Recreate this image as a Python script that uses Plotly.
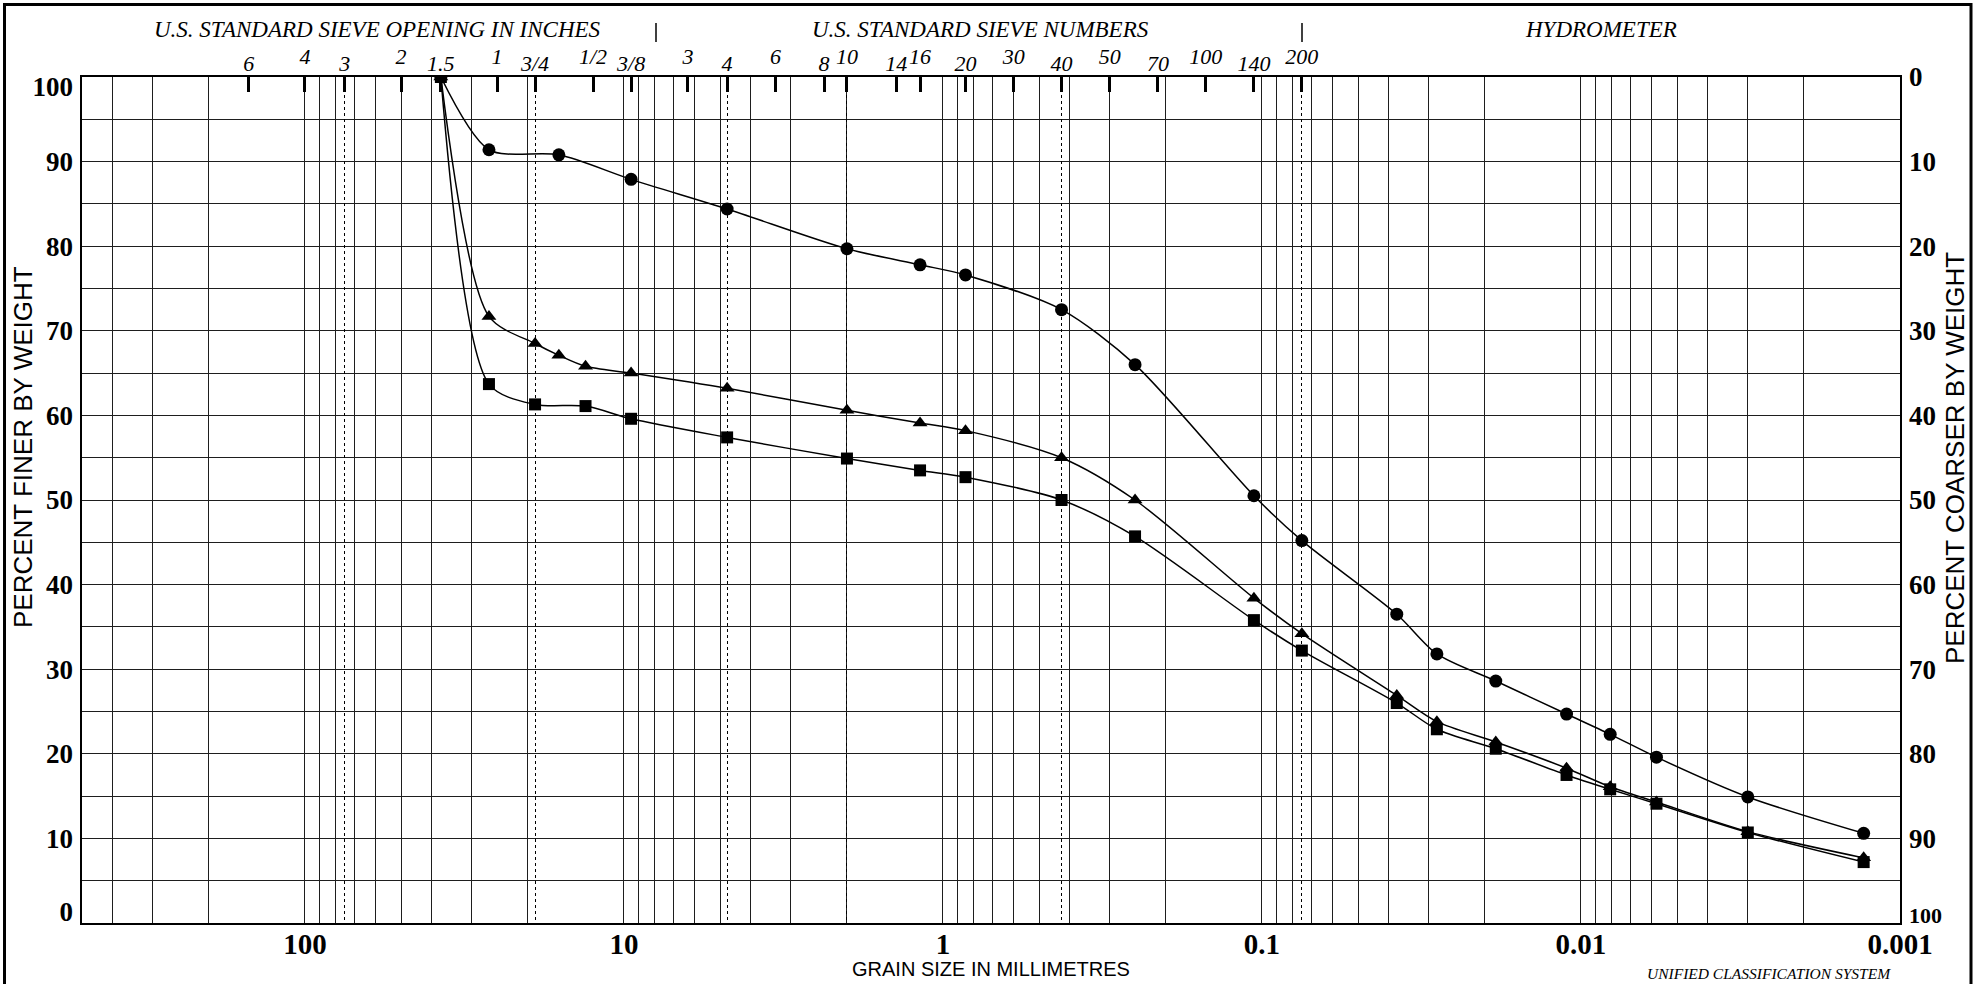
import numpy as np
import plotly.graph_objects as go

# ---------------- data ----------------
size_circle = [37.5, 26.5, 16, 9.5, 4.75, 2.0, 1.18, 0.85, 0.425, 0.25, 0.106, 0.075,
               0.0378, 0.0283, 0.0185, 0.0111, 0.0081, 0.0058, 0.003, 0.0013]
pct_circle = [100, 91.4, 90.8, 87.9, 84.4, 79.7, 77.8, 76.6, 72.5, 66.0, 50.5, 45.2,
              36.5, 31.8, 28.6, 24.7, 22.3, 19.6, 14.9, 10.6]

size_triangle = [37.5, 26.5, 19, 16, 13.2, 9.5, 4.75, 2.0, 1.18, 0.85, 0.425, 0.25, 0.106, 0.075,
                 0.0378, 0.0283, 0.0185, 0.0111, 0.0081, 0.0058, 0.003, 0.0013]
pct_triangle = [100, 71.7, 68.5, 67.1, 65.8, 65.0, 63.2, 60.6, 59.1, 58.2, 55.0, 50.0, 38.4, 34.2,
                26.9, 23.8, 21.4, 18.3, 16.1, 14.3, 10.8, 7.7]

size_square = [37.5, 26.5, 19, 13.2, 9.5, 4.75, 2.0, 1.18, 0.85, 0.425, 0.25, 0.106, 0.075,
               0.0378, 0.0283, 0.0185, 0.0111, 0.0081, 0.0058, 0.003, 0.0013]
pct_square = [100, 63.7, 61.3, 61.1, 59.6, 57.4, 54.9, 53.5, 52.7, 50.0, 45.7, 35.8, 32.2,
              26.0, 22.9, 20.6, 17.5, 15.8, 14.1, 10.7, 7.2]

inch_sizes = [150, 100, 75, 50, 37.5, 25, 19, 12.5, 9.5]
inch_labels = ['6', '4', '3', '2', '1.5', '1', '3/4', '1/2', '3/8']
sieve_sizes = [6.3, 4.75, 3.35, 2.36, 2.0, 1.4, 1.18, 0.85, 0.6, 0.425, 0.3, 0.212, 0.15, 0.106, 0.075]
sieve_labels = ['3', '4', '6', '8', '10', '14', '16', '20', '30', '40', '50', '70', '100', '140', '200']
boundary_sizes = [75, 19, 4.75, 2.0, 0.425, 0.075]

decade_vals = [100, 10, 1, 0.1, 0.01, 0.001]
decade_labels = ['100', '10', '1', '0.1', '0.01', '0.001']
finer_vals = [0, 10, 20, 30, 40, 50, 60, 70, 80, 90, 100]
finer_labels = ['0', '10', '20', '30', '40', '50', '60', '70', '80', '90', '100']
coarser_vals = [0, 10, 20, 30, 40, 50, 60, 70, 80, 90, 100]
coarser_labels = ['0', '10', '20', '30', '40', '50', '60', '70', '80', '90', '100']

X_MAX, X_MIN = 500, 0.001

# ---------------- layout geometry ----------------
W, H = 1982, 984
L, R, T, B = 82, 1900, 77, 923
PPU = (B - T) / 100.0  # pixels per percent


def px2x(px):
    return (px - L) / (R - L)


def py2y(py):
    return (B - py) / (B - T)


SERIF = 'Liberation Serif'
SANS = 'Liberation Sans'
GRID = '#1e1e1e'

# grid values: 1..9 x each decade inside the range
grid_vals = []
for e in (2, 1, 0, -1, -2, -3):
    for m in (9, 8, 7, 6, 5, 4, 3, 2, 1):
        v = round(m * 10.0 ** e, 6)
        if X_MIN <= v < X_MAX:
            grid_vals.append(v)
for v in (400, 300, 200):
    grid_vals.append(v)
grid_text = []
for v in grid_vals:
    lab = ''
    for dv, dl in zip(decade_vals, decade_labels):
        if abs(v - dv) < 1e-9:
            lab = dl
    grid_text.append(lab)

# alternate sieve labels low / high
all_sizes = inch_sizes + sieve_sizes
all_labels = inch_labels + sieve_labels
low_sizes = all_sizes[0::2]
low_labels = all_labels[0::2]
high_sizes = all_sizes[1::2]
high_labels = all_labels[1::2]

fig = go.Figure()

series = [
    (size_circle, pct_circle, 'circle', 13),
    (size_triangle, pct_triangle, 'triangle-up', 13),
    (size_square, pct_square, 'square', 12),
]
for xs, ys, sym, ms in series:
    fig.add_trace(go.Scatter(
        x=xs, y=ys, mode='lines+markers',
        line=dict(color='black', width=1.5, shape='spline', smoothing=0.8),
        marker=dict(symbol=sym, size=ms, color='black'),
        showlegend=False, hoverinfo='skip'))

xrange = [np.log10(X_MAX), np.log10(X_MIN)]

shift_bottom = 11 / PPU
shift_top = 10 / PPU
left_tickvals = list(finer_vals)
left_tickvals[0] = finer_vals[0] + shift_bottom
left_tickvals[-1] = finer_vals[-1] - shift_top
right_tickvals = list(coarser_vals)
right_tickvals[-1] = coarser_vals[-1] - 9 / PPU
right_ticktext = list(coarser_labels)
right_ticktext[-1] = '<span style="font-size:22px">%s</span>' % coarser_labels[-1]

tick_font_bold = dict(family=SERIF, size=27, color='black', weight='bold')

fig.update_layout(
    width=W, height=H,
    margin=dict(l=L, r=W - R, t=T, b=H - B, pad=0),
    paper_bgcolor='white', plot_bgcolor='white',
    xaxis=dict(type='log', range=xrange, tickmode='array', tickvals=grid_vals, ticktext=grid_text,
               showgrid=True, gridcolor=GRID, gridwidth=1.3, ticks='', zeroline=False,
               showline=True, mirror=True, linecolor='black', linewidth=1.5,
               tickfont=dict(family=SERIF, size=29, color='black', weight='bold'),
               ticklabelstandoff=-6, tickangle=0),
    xaxis4=dict(type='log', range=xrange, overlaying='x', anchor='y', tickmode='array',
                tickvals=boundary_sizes, showticklabels=False, ticks='',
                showgrid=True, griddash='dot', gridcolor='black', gridwidth=1.4, showline=False,
                zeroline=False),
    xaxis2=dict(type='log', range=xrange, overlaying='x', anchor='y', side='top', tickmode='array',
                tickvals=low_sizes, ticktext=low_labels, ticks='inside', ticklen=15, tickwidth=3,
                tickcolor='black', showgrid=False, showline=False, zeroline=False,
                tickfont=dict(family=SERIF, size=22, color='black', style='italic'),
                ticklabelstandoff=1, tickangle=0),
    xaxis3=dict(type='log', range=xrange, overlaying='x', anchor='y', side='top', tickmode='array',
                tickvals=high_sizes, ticktext=high_labels, ticks='inside', ticklen=15, tickwidth=3,
                tickcolor='black', showgrid=False, showline=False, zeroline=False,
                tickfont=dict(family=SERIF, size=22, color='black', style='italic'),
                ticklabelstandoff=8, tickangle=0),
    yaxis=dict(range=[0, 100], tickmode='linear', tick0=0, dtick=5, showticklabels=False,
               showgrid=True, gridcolor=GRID, gridwidth=1.3, ticks='', zeroline=False,
               showline=True, mirror=True, linecolor='black', linewidth=1.5),
    yaxis3=dict(range=[0, 100], overlaying='y', anchor='x', side='left', tickmode='array',
                tickvals=left_tickvals, ticktext=finer_labels, showgrid=False, ticks='',
                zeroline=False, showline=False, tickfont=tick_font_bold, ticklabelstandoff=8),
    yaxis2=dict(range=[100, 0], overlaying='y', anchor='x', side='right', tickmode='array',
                tickvals=right_tickvals, ticktext=right_ticktext, showgrid=False, ticks='',
                zeroline=False, showline=False, tickfont=tick_font_bold, ticklabelstandoff=8),
)

# invisible traces to activate overlay axes
for xa, ya in (('x2', 'y'), ('x3', 'y'), ('x4', 'y'), ('x', 'y2'), ('x', 'y3')):
    fig.add_trace(go.Scatter(x=[1], y=[50], xaxis=xa, yaxis=ya, mode='markers',
                             marker=dict(opacity=0), showlegend=False, hoverinfo='skip'))

annotations = []
head_font = dict(family=SERIF, size=23, color='black', style='italic')
for txt, cx in (('U.S. STANDARD SIEVE OPENING IN INCHES', 377),
                ('U.S. STANDARD SIEVE NUMBERS', 980),
                ('HYDROMETER', 1601)):
    annotations.append(dict(text=txt, x=px2x(cx), y=py2y(30), xref='paper', yref='paper',
                            showarrow=False, xanchor='center', yanchor='middle', font=head_font))
annotations.append(dict(text='PERCENT FINER BY WEIGHT', x=px2x(23), y=py2y(447), xref='paper',
                        yref='paper', showarrow=False, textangle=-90, xanchor='center',
                        yanchor='middle', font=dict(family=SANS, size=26, color='black')))
annotations.append(dict(text='PERCENT COARSER BY WEIGHT', x=px2x(1955), y=py2y(458), xref='paper',
                        yref='paper', showarrow=False, textangle=-90, xanchor='center',
                        yanchor='middle', font=dict(family=SANS, size=26, color='black')))
annotations.append(dict(text='GRAIN SIZE IN MILLIMETRES', x=px2x(991), y=py2y(969), xref='paper',
                        yref='paper', showarrow=False, xanchor='center', yanchor='middle',
                        font=dict(family=SANS, size=20, color='black')))
annotations.append(dict(text='UNIFIED CLASSIFICATION SYSTEM', x=px2x(1893), y=py2y(973),
                        xref='paper', yref='paper', showarrow=False, xanchor='right',
                        yanchor='middle',
                        font=dict(family=SERIF, size=15.5, color='black', style='italic')))
fig.update_layout(annotations=annotations)

shapes = []
for sx in (656, 1302):
    shapes.append(dict(type='line', xref='paper', yref='paper', x0=px2x(sx), x1=px2x(sx),
                       y0=py2y(23), y1=py2y(42), line=dict(color='black', width=1.5)))
shapes.append(dict(type='rect', xref='paper', yref='paper', x0=px2x(4.5), x1=px2x(1971),
                   y0=py2y(4.5), y1=py2y(995), line=dict(color='black', width=3),
                   fillcolor='rgba(0,0,0,0)', layer='above'))
fig.update_layout(shapes=shapes)

fig.write_html('out.html')
